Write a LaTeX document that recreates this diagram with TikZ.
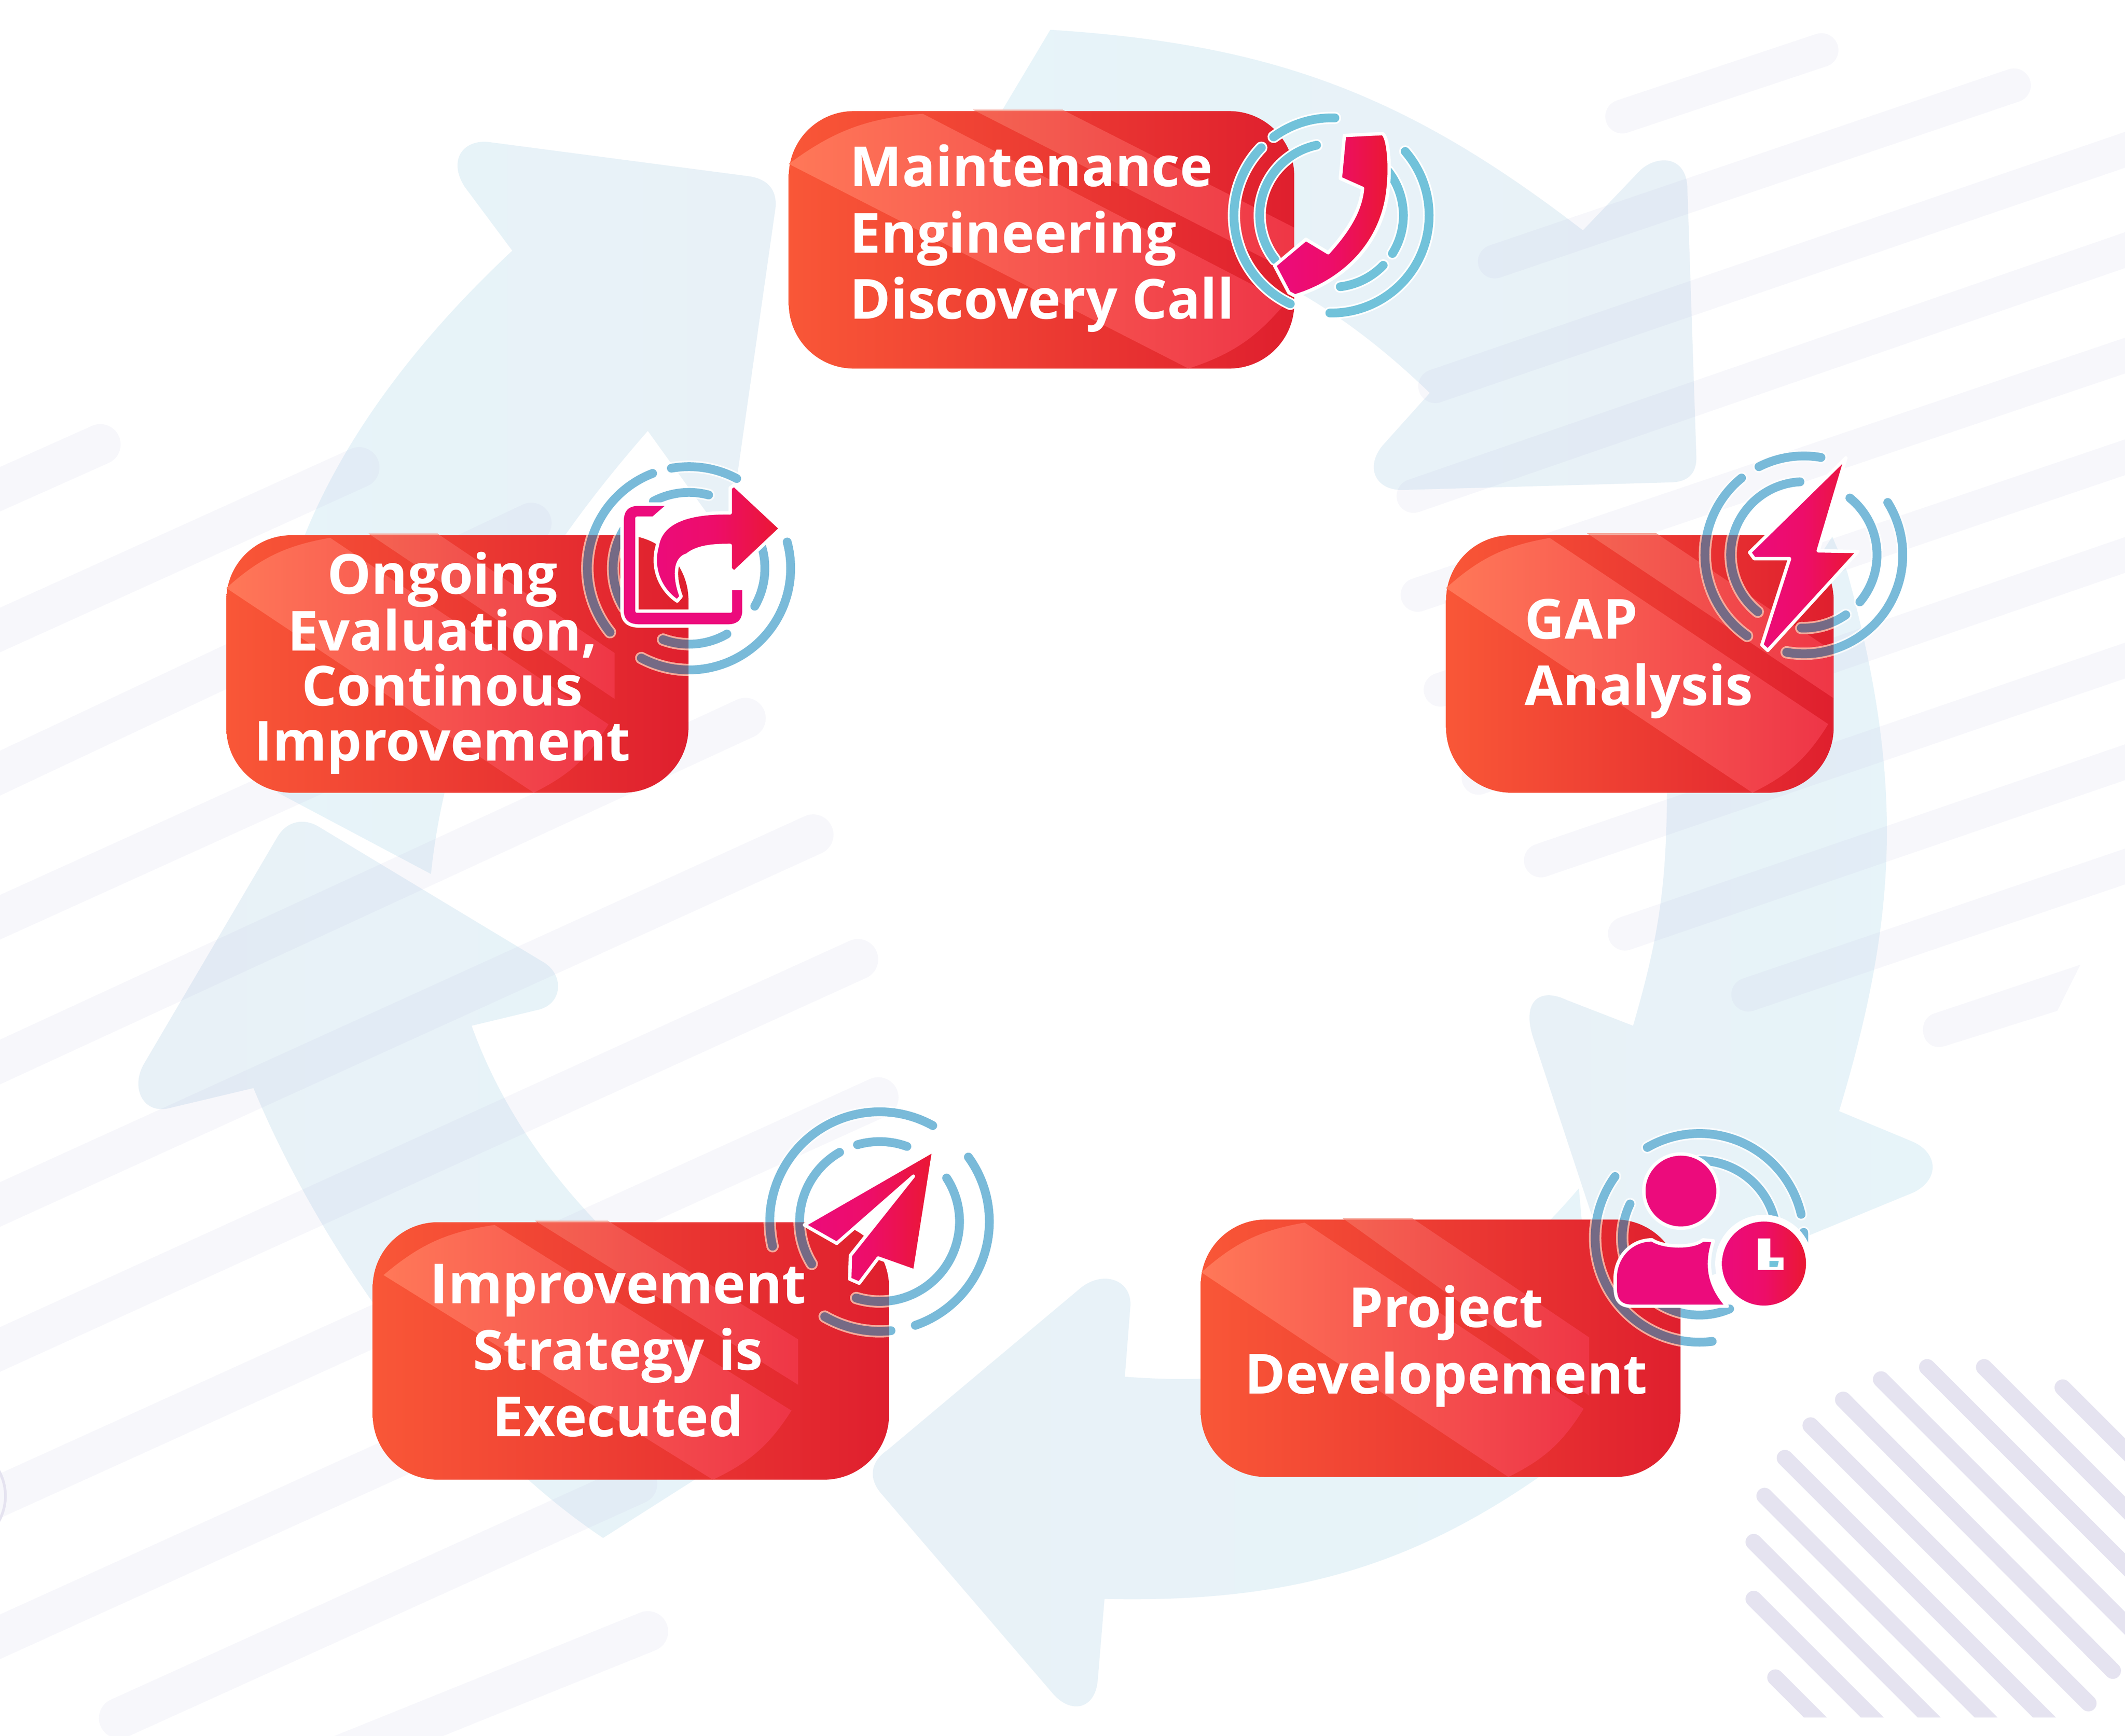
\documentclass[tikz,border=0pt]{standalone}
\usepackage{fontspec}
\setmainfont{Open Sans}
\usetikzlibrary{calc}
\definecolor{stripe}{RGB}{186,186,224}
\definecolor{hatch}{RGB}{229,227,240}
\definecolor{arA}{RGB}{231,244,249}
\definecolor{arB}{RGB}{232,241,247}
\definecolor{boxL}{RGB}{249,87,55}
\definecolor{boxR}{RGB}{223,31,46}
\definecolor{bandL}{RGB}{255,120,88}
\definecolor{bandR}{RGB}{238,53,71}
\definecolor{bandtL}{RGB}{244,100,82}
\definecolor{bandtR}{RGB}{239,54,70}
\definecolor{bandtop}{RGB}{244,175,163}
\definecolor{ringA}{RGB}{113,194,218}
\definecolor{ringB}{RGB}{121,186,217}
\definecolor{ringG}{RGB}{117,106,133}
\definecolor{ringS}{RGB}{245,169,154}
\definecolor{icoL}{RGB}{236,11,124}
\definecolor{icoM}{RGB}{237,13,105}
\definecolor{icoR}{RGB}{234,24,50}
\tikzset{
  bgL/.style={draw=stripe,opacity=.11,line width=30pt,line cap=round},
  bgR/.style={draw=stripe,opacity=.11,line width=25pt,line cap=round},
  hatchline/.style={draw=hatch,line width=12pt,line cap=round},
  bigarrow/.style={left color=#1,right color=arA,draw=none},
  redbox/.style={rectangle,rounded corners=48pt,left color=boxL,right color=boxR,inner sep=0pt,outer sep=0pt,draw=none},
  boxlabel/.style={text=white,inner sep=0pt,font=\fontsize{40.8}{49}\selectfont\bfseries},
  bandone/.style={left color=bandL,right color=bandR,draw=none},
  bandtwo/.style={left color=bandtL,right color=bandtR,draw=none},
  glyph/.style={left color=icoL,right color=icoR,middle color=icoM,draw=white,line width=2.5pt,line join=round},
  solidglyph/.style={fill=icoL,draw=white,line width=2.5pt,line join=round},
  halo/.style={draw=white,opacity=.75,line width=9pt,line cap=round},
  ringa/.style={draw=ringA,line width=6.5pt,line cap=round},
  ringb/.style={draw=ringB,line width=6.5pt,line cap=round},
  ringsalmon/.style={draw=ringS,line width=9pt,line cap=round},
  ringgrey/.style={draw=ringG,line width=6.5pt,line cap=round}
}
\newcommand{\arcsegs}[3]{\foreach \Rd/\Sa/\Sb in #2{\draw[#3] ($(#1)+(\Sa:\Rd)$) arc[start angle=\Sa,end angle=\Sb,radius=\Rd];}}
\newcommand{\ringset}[5]{% centre, list, box corners
  \arcsegs{#1}{#2}{halo}\arcsegs{#1}{#2}{ringb}
  \begin{scope}\clip[rounded corners=48pt] (#3,#4) rectangle (#5);
    \arcsegs{#1}{#2}{ringsalmon}\arcsegs{#1}{#2}{ringgrey}
  \end{scope}}
\begin{document}
\begin{tikzpicture}[x=1pt,y=-1pt]
\useasboundingbox (0,0) rectangle (1568,1281.13);
\clip (0,0) rectangle (1568,1281.13);
\fill[white] (0,0) rectangle (1568,1281.13);

% ---- five big circular arrows
\shade[left color=arA,right color=arB]
  (775,22) to[bend left=17] (1168,170) -- (1209,127) .. controls (1220,115) and (1243,113) .. (1245,137)
  -- (1251.7,337) .. controls (1252,350) and (1245,356) .. (1232,356) -- (1035,361.6) .. controls (1015,362) and (1007,345) .. (1020,329)
  -- (1055,290) to[bend right=27] (683,176) -- cycle;
\shade[left color=arB,right color=arA]
  (1352,396) -- (1363,422) to[bend left=16] (1357,820) -- (1410,842) .. controls (1430,850) and (1432,870) .. (1412,880)
  -- (1198,968) -- (1132,768) .. controls (1122,740) and (1135,728) .. (1156,738)
  -- (1205,757) to[bend right=8] (1230,585) -- cycle;
\shade[bigarrow=arB]
  (1181,1056) to[bend left=20] (815,1180) -- (810,1240) .. controls (808,1262) and (790,1265) .. (777,1250)
  -- (650,1102) .. controls (640,1090) and (643,1078) .. (655,1070) -- (798,950) .. controls (815,937) and (836,945) .. (834,965)
  -- (830,1016) to[bend right=27] (1165,877) -- cycle;
\shade[bigarrow=arB]
  (445,1135) .. controls (340,1065) and (240,930) .. (187,803) -- (124,818) .. controls (105,822) and (96,802) .. (106.6,784.5)
  -- (204.5,618) .. controls (212,605) and (225,604) .. (235,610) -- (400,709.5) .. controls (416,718) and (416,740) .. (398,745)
  -- (348,757) .. controls (385,860) and (470,950) .. (610,1030) -- cycle;
\shade[left color=arA,right color=arB]
  (205,585) .. controls (175,440) and (255,300) .. (378,185) -- (343,138) .. controls (330,118) and (342,102) .. (362,105)
  -- (552,130) .. controls (568,132) and (574,142) .. (572,155) -- (537,400) -- (478,318)
  .. controls (380,430) and (330,530) .. (318,645) -- cycle;

% ---- pale stripes, upper right
\draw[bgR] (1197,86) -- (1344,37);
\draw[bgR] (1103,193) -- (1486,63);
\draw[bgR] (1059,285) -- (1590,103);
\draw[bgR] (1043,366) -- (1590,177);
\draw[bgR] (1046,439) -- (1590,255);
\draw[bgR] (1063,509) -- (1590,330);
\draw[bgR] (1091,574) -- (1590,402);
\draw[bgR] (1137,635) -- (1590,480);
\draw[bgR] (1199,689) -- (1590,555);
\draw[bgR] (1290,734) -- (1590,632);
\fill[stripe,opacity=.11] (1535,712) -- (1427,748) .. controls (1413,753) and (1418,777) .. (1435,772) -- (1518,746) -- cycle;
% ---- pale stripes, left
\draw[bgL] (-20,370) -- (74,328);
\draw[bgL] (-20,474) -- (265,345);
\draw[bgL] (-20,580) -- (392,386);
\draw[bgL] (-20,686) -- (470,464);
\draw[bgL] (-20,793) -- (550,530);
\draw[bgL] (-20,898) -- (600,616);
\draw[bgL] (-20,1005) -- (633,708);
\draw[bgL] (-20,1113) -- (648,810);
\draw[bgL] (-20,1217) -- (600,936);
\draw[bgL] (88,1268) -- (470,1095);
\draw[bgL] (250,1296) -- (478,1204);
\draw[hatch,line width=2pt] (-34,1104) circle[radius=38];
\draw[hatch,line width=1.5pt] (-34,1104) circle[radius=33];

% ---- hatch, lower right
\begin{scope}
\clip (0,0) rectangle (1568,1267.5);
\draw[hatchline] (1522,1024) -- (1600,1102);
\draw[hatchline] (1464,1009) -- (1600,1145);
\draw[hatchline] (1422,1009) -- (1600,1187);
\draw[hatchline] (1388,1018) -- (1600,1230);
\draw[hatchline] (1360,1033) -- (1559,1233);
\draw[hatchline] (1336,1052) -- (1541,1257);
\draw[hatchline] (1317,1076) -- (1520,1279);
\draw[hatchline] (1302,1104) -- (1480,1282);
\draw[hatchline] (1294,1138) -- (1440,1284);
\draw[hatchline] (1294,1180) -- (1400,1286);
\draw[hatchline] (1310,1238) -- (1360,1288);
\end{scope}

% ---- red boxes
\node[redbox,minimum width=373pt,minimum height=190pt] (box1) at (768.5,177) {};
\node[redbox,minimum width=286pt,minimum height=190pt] (box2) at (1210,490) {};
\node[redbox,minimum width=354pt,minimum height=190pt] (box3) at (1063,995) {};
\node[redbox,minimum width=381pt,minimum height=190pt] (box4) at (465.5,997) {};
\node[redbox,minimum width=341pt,minimum height=190pt] (box5) at (337.5,490) {};

% ---- diagonal highlight bands
\shade[bandone] (582,121) to[bend left=16] (681,84) -- (949,223) to[bend left=16] (877,272) -- cycle;
\shade[bandtwo] (718,81) -- (784,81) -- (955,168) -- (955,202) -- cycle;
\fill[bandtop] (718,81) -- (784,81) -- (786,82) -- (720,82) -- cycle;

\shade[bandone] (1067,434) to[bend left=16] (1143.5,397) -- (1349,534.4) to[bend left=16] (1293,585) -- cycle;
\shade[bandtwo] (1171,393.5) -- (1222,393.5) -- (1353,481) -- (1353,515.3) -- cycle;
\fill[bandtop] (1171,393.5) -- (1222,393.5) -- (1224,395) -- (1173,395) -- cycle;

\shade[bandone] (886.5,939) to[bend left=16] (962.7,902.3) -- (1168.5,1039.7) to[bend left=16] (1113,1090) -- cycle;
\shade[bandtwo] (990.7,899) -- (1042,899) -- (1172.6,987) -- (1172.6,1030) -- cycle;
\fill[bandtop] (990.7,899) -- (1042,899) -- (1044,900) -- (992,900) -- cycle;

\shade[bandone] (283,941) to[bend left=16] (365,904) -- (584,1041) to[bend left=16] (526,1092) -- cycle;
\shade[bandtwo] (395,901) -- (448.6,901) -- (589,988.5) -- (589,1022) -- cycle;
\fill[bandtop] (395,901) -- (448.6,901) -- (450,902) -- (397,902) -- cycle;

\shade[bandone] (167,434) to[bend left=16] (243.6,396.9) -- (449,534.6) to[bend left=16] (393.8,585) -- cycle;
\shade[bandtwo] (272,393.8) -- (322.8,393.8) -- (453.5,481.9) -- (453.5,515.8) -- cycle;
\fill[bandtop] (272,393.8) -- (322.8,393.8) -- (324.5,395) -- (274,395) -- cycle;

% ---- labels
\node[boxlabel,align=left,anchor=base west] (label1) at (627,235.5) {Maintenance\\Engineering\\Discovery Call};
\node[boxlabel,align=left,anchor=base west] (label2) at (1125,520.5) {GAP\\Analysis};
\node[boxlabel,align=center,anchor=base] (label3) at (1067,1028.5) {Project\\Developement};
\node[boxlabel,align=center,anchor=base] (label4) at (456,1060) {Improvement\\Strategy is\\Executed};
\node[boxlabel,font=\fontsize{40.8}{40.6}\selectfont\bfseries,align=center,anchor=base] (label5) at (326.5,561.5) {Ongoing\\Evaluation,\\Continous\\Improvement};

% ---- icon 1: phone
\coordinate (ic1) at (982.5,159);
\def\segA{72/233.6/272,72/115/224,72/-41/91,53/142/258,53/44/83,53/-38/32}
\arcsegs{ic1}{\segA}{draw=white,line width=9pt,line cap=round}
\arcsegs{ic1}{\segA}{ringa}
\shadedraw[glyph] (992,100) -- (1020,98.6) .. controls (1024,100) and (1026,120) .. (1024.6,135)
  .. controls (1022,180) and (990,208) .. (955.5,218.4) -- (951,216) -- (940.5,196) -- (963.6,176.6)
  -- (980,186.5) .. controls (995,170) and (1004,155) .. (1005.4,139) -- (989,131.7) -- cycle;

% ---- icon 2: bolt
\coordinate (ic2) at (1331,409.5);
\def\segB{73/243/280,73/125/231,73/-32/100,54/129/267,54/-51/40,54/55/92}
\ringset{ic2}{\segB}{1067}{395}{1353,585}
\shadedraw[glyph] (1362,338) -- (1341.6,406.5) -- (1371,407) -- (1304.4,480) -- (1300,476)
  -- (1320.5,412.3) -- (1294.4,412.3) -- (1291,407.7) -- cycle;

% ---- icon 3: person with clock
\coordinate (ic3) at (1254,913.5);
\def\segC{77/240/347,77/83/216,77/-3/12,57/270/347,57/67/206}
\ringset{ic3}{\segC}{886}{900}{1240,1090}
\filldraw[solidglyph] (1240.3,879) circle[radius=27.4];
\filldraw[solidglyph] (1219,915) .. controls (1228,921) and (1250,921) .. (1256.5,915) -- (1264.3,915.7)
  .. controls (1258,935) and (1262,950) .. (1274.5,964) -- (1204,964)
  .. controls (1194,964) and (1191.8,958) .. (1191.8,950) -- (1191.8,942.8)
  .. controls (1192,928) and (1203,915) .. (1219,915) -- cycle;
\fill[white] (1301.6,932.5) circle[radius=36];
\shade[left color=icoL,right color=icoR,middle color=icoM] (1301.6,932.5) circle[radius=31];
\fill[white] (1297,914) -- (1306.3,914) -- (1306.3,928) -- (1316,928) -- (1316,937.2) -- (1297,937.2) -- cycle;
\fill[ringA] (1305.6,930.6) -- (1312.5,930.6) -- (1311.5,935) -- (1305.6,935) -- cycle;

% ---- icon 4: paper plane
\coordinate (ic4) at (649,901.5);
\def\segD{81/167/299,81/-36/71,81/84/120,59/254/290,59/148/240,59/-33/107}
\ringset{ic4}{\segD}{275}{902}{656,1092}
\shadedraw[glyph] (689,849) -- (675,938) -- (648,928.4) -- (634,947) -- (627,944) -- (627.5,926.5)
  -- (674,868) -- (617.4,917.6) -- (593.5,904) -- cycle;

% ---- icon 5: frame with share arrow
\coordinate (ic5) at (508.4,419.4);
\def\segE{75/260/298,75/141/249,75/-15/118,56/242/285,56/149/230,56/-30/30,56/60/110}
\ringset{ic5}{\segE}{167}{395}{508,585}
\filldraw[solidglyph] (494,372) -- (482,382.4) -- (470,382.4) -- (470,451) -- (539,451) -- (539,434.3) -- (549,434.3)
  -- (549,450) .. controls (549,458) and (545,462) .. (537,462) -- (472,462) .. controls (463,462) and (459,458) .. (459,450)
  -- (459,385) .. controls (459,376) and (463,372) .. (472,372) -- cycle;
\shadedraw[glyph] (576,390) -- (541.7,358) -- (538.8,360) -- (538.8,378.5)
  .. controls (510,378) and (488,384) .. (485,402.8) .. controls (480,420) and (488,436) .. (499.7,443.6)
  -- (502.6,440.2) .. controls (497,425) and (498,412) .. (507,409.6) .. controls (515,403) and (528,402.5) .. (538.8,402.5)
  -- (538.8,419.8) -- (541.7,422.4) -- cycle;
\end{tikzpicture}
\end{document}
